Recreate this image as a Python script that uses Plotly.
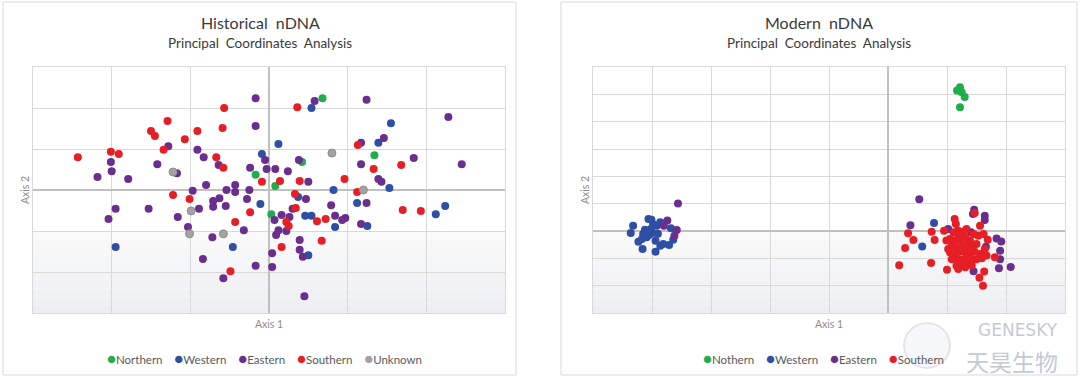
import plotly.graph_objects as go

W, H = 1080, 377

# ---------------- Historical nDNA ----------------
hist_groups = ["Northern", "Western", "Eastern", "Southern", "Unknown"]

hist_north_x = [0.68, 1.34, 0.42, -0.17, 0.08, 0.03]
hist_north_y = [2.24, 0.85, 0.68, 0.37, 0.10, -0.59]

hist_west_x = [0.54, 1.55, 1.39, 0.12, -0.09, 1.53, 0.82, 1.12, -0.11, 0.37,
               0.46, 0.54, 0.84, 1.25, 2.12, 2.24, -0.46, 0.50, -1.95]
hist_west_y = [2.00, 1.63, 1.15, 1.12, 0.88, 0.05, 0.00, -0.32, -0.34, -0.17,
               -0.63, -0.63, -0.90, -0.88, -0.59, -0.39, -1.39, -1.59, -1.39]

hist_east_x = [-0.17, -0.17, 0.58, 1.24, 2.28, 2.45, 1.84, 1.46, 1.17, 1.17,
               1.39, 1.43, 1.24, 1.17, 0.97, 0.93, 0.84, 0.79, 0.47, 0.50,
               0.38, 0.24, 0.08, -0.03, -0.05, -0.24, -0.25, -0.28, -0.43, -0.43,
               -0.54, -0.63, -0.71, -0.71, -0.55, -0.64, -0.83, -0.91, -0.80, -0.97,
               -0.89, -1.03, -1.16, -1.17, -1.28, -1.42, -1.53, -1.79, -2.00, -2.01,
               -2.18, -1.95, -2.04, -0.32, -0.72, -0.84, -0.58, -0.17, 0.04, 0.04,
               0.09, 0.12, 0.22, 0.07, 0.16, 0.26, 0.30, 0.39, 0.39, 0.43, 0.45]
hist_east_y = [2.24, 1.56, 2.17, 2.20, 1.78, 0.63, 0.78, 1.27, 1.15, 0.63,
               0.27, 0.20, -0.32, -0.83, -0.68, -0.73, -0.63, -0.37, -0.22, 0.20,
               0.73, 0.46, 0.51, 0.51, 0.73, 0.54, 0.00, -0.22, 0.12, -0.05,
               0.00, -0.20, -0.27, -0.41, -0.39, 0.61, 0.80, 0.98, 0.12, -0.02,
               -0.46, -0.90, -0.66, 0.41, 1.07, 0.63, -0.46, 0.27, 0.46, 0.68,
               0.32, -0.46, -0.71, -0.98, -1.15, -1.68, -2.15, -1.85, -1.88, -1.54,
               -1.10, -0.98, -1.00, -0.73, -0.61, -0.66, -0.46, -1.22, -1.46, -1.63, -2.59]

hist_south_x = [-2.43, -2.01, -1.91, -1.50, -1.45, -1.29, -1.34, -1.07, -0.91, -0.57,
                -0.59, -0.67, -0.58, -1.22, -1.01, -0.09, 0.14, 0.39, 0.36, -0.24,
                -0.43, 0.33, 0.34, 0.22, 0.25, 0.61, 0.72, 0.67, 0.16, -0.49,
                0.96, 1.12, 1.13, 1.33, 1.68, 1.70, 1.93]
hist_south_y = [0.80, 0.93, 0.88, 1.44, 1.32, 1.68, 0.98, 1.24, 1.44, 2.00,
                1.51, 0.80, 0.54, -0.12, -0.22, 0.20, 0.22, 0.22, 2.02, -0.54,
                -0.78, -0.10, -0.44, -0.78, -0.88, -0.76, -0.71, -1.24, -1.39, -1.98,
                0.27, -0.05, 1.10, 0.51, 0.61, -0.49, -0.51]

hist_unk_x = [-1.22, 0.80, 1.20, -0.99, -1.01, -0.58]
hist_unk_y = [0.44, 0.90, 0.00, -0.51, -1.07, -1.07]

# ---------------- Modern nDNA ----------------
mod_groups = ["Nothern", "Western", "Eastern", "Southern"]

mod_north_x = [1.17, 1.22, 1.25, 1.30, 1.22]
mod_north_y = [5.14, 5.26, 5.08, 4.90, 4.53]

mod_west_x = [-4.32, -4.36, -4.23, -4.16, -4.15, -4.10, -4.06, -4.01, -4.09, -4.02,
              -3.99, -3.94, -3.94, -3.86, -3.81, -3.71, -3.64, -3.68, -3.86, -4.17,
              -3.92, -4.05, -3.98, -4.12, -3.90, 0.78, 0.58]
mod_west_y = [0.19, -0.07, -0.39, -0.66, -0.11, -0.05, 0.44, 0.41, -0.23, 0.07,
              -0.07, -0.36, -0.76, -0.54, -0.48, -0.51, -0.32, 0.10, 0.32, -0.29,
              0.19, -0.15, 0.25, 0.05, -0.10, 0.29, -0.57]

mod_east_x = [-3.56, -3.74, -3.80, -3.58, -3.62,
              0.53, 0.38, 1.46, 1.44, 1.64, 1.64, 1.84, 1.92, 1.90, 1.66,
              1.90, 1.88, 2.08, 1.45, 1.41, 1.02]
mod_east_y = [1.01, 0.38, 0.19, 0.04, -0.17,
              1.16, 0.21, 0.78, 0.62, 0.56, 0.40, -0.27, -0.38, -0.72, -0.58,
              -1.03, -1.36, -1.32, -1.47, -0.05, 0.07]

mod_south_x = [0.19, 0.29, 0.34, 0.43, 0.74, 0.79, 0.73, 0.95, 1.00, 1.13,
               1.15, 1.47, 1.56, 1.62, 1.69, 1.63, 1.55, 1.61, 1.81, 1.19,
               1.31, 1.42,
               1.05, 1.14, 1.22, 1.31, 1.39, 1.08, 1.16, 1.25, 1.33, 1.42,
               1.50, 1.05, 1.14, 1.22, 1.31, 1.39, 1.47, 1.56, 1.08, 1.16,
               1.25, 1.33, 1.42, 1.50, 1.59, 1.11, 1.19, 1.28, 1.33, 1.45,
               1.53, 1.16, 1.25, 1.33, 1.02, 1.67, 1.64, 0.99, 1.19, 1.36]
mod_south_y = [-1.25, -0.62, -0.08, -0.33, -0.03, -0.33, -1.17, 0.01, -1.42, 0.44,
               0.26, 0.66, 0.19, -0.11, -0.32, -1.48, -1.71, -2.00, -0.96, -1.39,
               -1.33, -1.25,
               -0.29, -0.35, -0.29, -0.23, -0.35, -0.54, -0.60, -0.54, -0.48, -0.54,
               -0.48, -0.78, -0.84, -0.76, -0.78, -0.82, -0.76, -0.84, -1.03, -1.00,
               -1.05, -1.00, -1.03, -1.03, -1.00, -0.05, 0.01, -0.02, 0.07, -0.11,
               -0.17, -1.27, -1.21, -1.17, -0.66, -0.90, -0.66, -0.35, -0.17, -0.66]

# ---------------- styling ----------------
COL = {"Northern": "#1fae4b", "Nothern": "#1fae4b", "Western": "#2f4fa5",
       "Eastern": "#6a2e8e", "Southern": "#e61f26", "Unknown": "#a3a3a3"}

hist_series = [(hist_north_x, hist_north_y), (hist_west_x, hist_west_y),
               (hist_east_x, hist_east_y), (hist_south_x, hist_south_y),
               (hist_unk_x, hist_unk_y)]
mod_series = [(mod_north_x, mod_north_y), (mod_west_x, mod_west_y),
              (mod_east_x, mod_east_y), (mod_south_x, mod_south_y)]

fig = go.Figure()

for name, (xs, ys) in zip(hist_groups, hist_series):
    line = dict(width=1, color="#8c8c8c") if name == "Unknown" else dict(width=0)
    fig.add_trace(go.Scatter(x=xs, y=ys, mode="markers", name=name, showlegend=False,
                             marker=dict(size=8, color=COL[name], line=line),
                             xaxis="x", yaxis="y"))
for name, (xs, ys) in zip(mod_groups, mod_series):
    fig.add_trace(go.Scatter(x=xs, y=ys, mode="markers", name=name, showlegend=False,
                             marker=dict(size=8, color=COL[name], line=dict(width=0)),
                             xaxis="x2", yaxis="y2"))

def px(v):
    return v / W

def py(v):
    return 1 - v / H

ax_common = dict(showticklabels=False, ticks="", dtick=1, gridcolor="#d9d9d9", gridwidth=1.3,
                 zeroline=True, zerolinecolor="#c0c0c0", zerolinewidth=1.6,
                 showline=True, linecolor="#d9d9d9", linewidth=1.3, mirror=True, fixedrange=True)

ydom = [py(313), py(67)]
fig.update_layout(
    width=W, height=H, margin=dict(l=0, r=0, t=0, b=0),
    paper_bgcolor="white", plot_bgcolor="white", showlegend=False,
    xaxis=dict(domain=[px(33), px(505)], range=[-3, 3], anchor="y", **ax_common),
    yaxis=dict(domain=ydom, range=[-3, 3], anchor="x", **ax_common),
    xaxis2=dict(domain=[px(593), px(1065)], range=[-5, 3], anchor="y2", **ax_common),
    yaxis2=dict(domain=ydom, range=[-3, 6], anchor="x2", **ax_common),
)

shapes = []
# panel frames
for x0, x1 in [(3, 516), (561, 1077)]:
    shapes.append(dict(type="rect", xref="paper", yref="paper", x0=px(x0), x1=px(x1),
                       y0=py(375), y1=py(2), line=dict(color="#d9d9d9", width=1),
                       fillcolor="rgba(0,0,0,0)", layer="below"))
# light gradient at the bottom of each plot area
nb = 10
c_top = (249, 249, 250)
c_bot = (238, 239, 242)
for xr, yr in [("x domain", "y domain"), ("x2 domain", "y2 domain")]:
    for i in range(nb):
        t = i / (nb - 1)
        c = tuple(round(c_top[k] + (c_bot[k] - c_top[k]) * t) for k in range(3))
        top = 0.333 * (1 - i / nb)
        bot = 0.333 * (1 - (i + 1) / nb)
        shapes.append(dict(type="rect", xref=xr, yref=yr, x0=0, x1=1, y0=bot, y1=top,
                           line=dict(width=0), fillcolor="rgb(%d,%d,%d)" % c, layer="below"))
# faint watermark logo disc
shapes.append(dict(type="circle", xref="paper", yref="paper", x0=px(904), x1=px(950),
                   y0=py(368), y1=py(323), line=dict(color="rgba(190,196,206,0.4)", width=2),
                   fillcolor="rgba(225,229,235,0.3)", layer="above"))
fig.update_layout(shapes=shapes)

TF = "Lato, Open Sans, sans-serif"
ann = []
for cx, title in [(260, "Historical&nbsp; nDNA"), (819, "Modern&nbsp; nDNA")]:
    ann.append(dict(x=px(cx), y=py(23), xref="paper", yref="paper", text=title, showarrow=False,
                    font=dict(family=TF, size=16, color="#3a3a3a"), xanchor="center", yanchor="middle"))
    ann.append(dict(x=px(cx), y=py(43), xref="paper", yref="paper",
                    text="Principal&nbsp; Coordinates&nbsp; Analysis", showarrow=False,
                    font=dict(family=TF, size=13.5, color="#3a3a3a"), xanchor="center", yanchor="middle"))
for cx in [269, 829]:
    ann.append(dict(x=px(cx), y=py(324), xref="paper", yref="paper", text="Axis 1", showarrow=False,
                    font=dict(family=TF, size=10.5, color="#8c8c8c"), xanchor="center", yanchor="middle"))
for cx in [25, 585]:
    ann.append(dict(x=px(cx), y=py(190), xref="paper", yref="paper", text="Axis 2", showarrow=False,
                    textangle=-90, font=dict(family=TF, size=10.5, color="#8c8c8c"),
                    xanchor="center", yanchor="middle"))

def legend_text(groups):
    parts = ['<span style="color:%s;font-size:15px">●</span>%s' % (COL[g], g) for g in groups]
    return "&nbsp;&nbsp;&nbsp;&nbsp;".join(parts)

ann.append(dict(x=px(264), y=py(358), xref="paper", yref="paper", text=legend_text(hist_groups),
                showarrow=False, font=dict(family=TF, size=11.5, color="#595959"),
                xanchor="center", yanchor="middle"))
ann.append(dict(x=px(823), y=py(358), xref="paper", yref="paper", text=legend_text(mod_groups),
                showarrow=False, font=dict(family=TF, size=11.5, color="#595959"),
                xanchor="center", yanchor="middle"))

# watermark
ann.append(dict(x=px(1060), y=py(330), xref="paper", yref="paper", text="GENESKY", showarrow=False,
                font=dict(family="DejaVu Sans, sans-serif", size=17, color="#c3cad4"),
                xanchor="right", yanchor="middle"))
ann.append(dict(x=px(1060), y=py(361), xref="paper", yref="paper", text="天昊生物", showarrow=False,
                font=dict(family="Noto Sans CJK SC", size=23, color="#c3cad4"),
                xanchor="right", yanchor="middle"))
fig.update_layout(annotations=ann)

fig.write_html("out.html", config={"displayModeBar": False},
               post_script="document.body.style.margin='0px';")
